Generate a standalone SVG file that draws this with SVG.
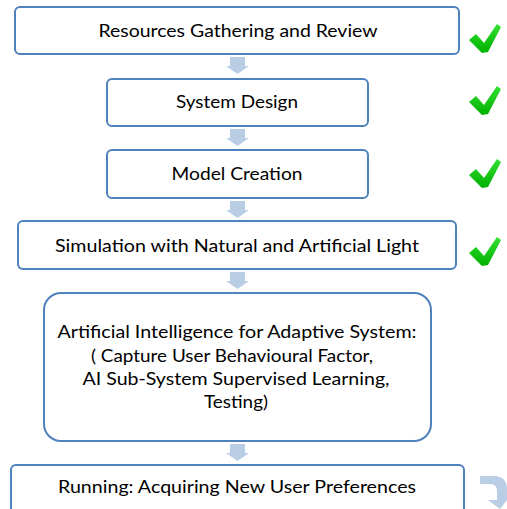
<svg xmlns="http://www.w3.org/2000/svg" width="507" height="509" viewBox="0 0 507 509">
<defs>
<style>
.box{fill:#fff;stroke:#4F81BD;stroke-width:2}
.t{font-family:Lato,"Liberation Sans",sans-serif;font-size:18px;fill:#000;text-anchor:middle}
.arr{fill:#B9CDE5}
.chk{fill:url(#g)}
</style>
<linearGradient id="g" x1="0" y1="0" x2="0" y2="1">
<stop offset="0" stop-color="#33E033"/>
<stop offset="1" stop-color="#00B000"/>
</linearGradient>
<path id="check" d="M0,16 L7,10 L15,19 L28,0 L32,3 L19,28 L13,29 Z"/>
<path id="down" d="M-7.5,0 H7.5 V9 H11.5 L0,17 L-11.5,9 H-7.5 Z"/>
</defs>
<g id="connectors">
<use href="#down" class="arr" x="237.5" y="57"/>
<use href="#down" class="arr" x="237.5" y="129"/>
<use href="#down" class="arr" x="237.5" y="201"/>
<use href="#down" class="arr" x="237.5" y="272"/>
<use href="#down" class="arr" x="237.5" y="444"/>
<path class="arr" d="M480,476 H494 Q507,476 507,490 V495 H511 L500,509 L488,500 H497 V491 Q497,484 490,484 H480 Z"/>
</g>
<g id="n1"><rect class="box" x="15" y="7" width="444" height="47" rx="5"/><text class="t" x="238" y="37" textLength="279" lengthAdjust="spacingAndGlyphs">Resources Gathering and Review</text></g>
<g id="n2"><rect class="box" x="107" y="79" width="261" height="47" rx="5"/><text class="t" x="237" y="108" textLength="122" lengthAdjust="spacingAndGlyphs">System Design</text></g>
<g id="n3"><rect class="box" x="107" y="150" width="261" height="48" rx="5"/><text class="t" x="237" y="180" textLength="131" lengthAdjust="spacingAndGlyphs">Model Creation</text></g>
<g id="n4"><rect class="box" x="18" y="221" width="438" height="48" rx="5"/><text class="t" x="237" y="252" textLength="364" lengthAdjust="spacingAndGlyphs">Simulation with Natural and Artificial Light</text></g>
<g id="n5"><rect class="box" x="44" y="293" width="387" height="148" rx="17"/>
<text class="t" x="237" y="338" textLength="359" lengthAdjust="spacingAndGlyphs">Artificial Intelligence for Adaptive System:</text>
<text class="t" x="232" y="362" textLength="282" lengthAdjust="spacingAndGlyphs">( Capture User Behavioural Factor,</text>
<text class="t" x="236" y="385" textLength="307" lengthAdjust="spacingAndGlyphs">AI Sub-System Supervised Learning,</text>
<text class="t" x="236" y="408" textLength="64" lengthAdjust="spacingAndGlyphs">Testing)</text></g>
<g id="n6"><rect class="box" x="11" y="465" width="453" height="60" rx="5"/><text class="t" x="237" y="493" textLength="358" lengthAdjust="spacingAndGlyphs">Running: Acquiring New User Preferences</text></g>
<g id="checks">
<use href="#check" class="chk" x="469" y="24"/>
<use href="#check" class="chk" x="469" y="86"/>
<use href="#check" class="chk" x="469" y="159"/>
<use href="#check" class="chk" x="469" y="237"/>
</g>
</svg>
